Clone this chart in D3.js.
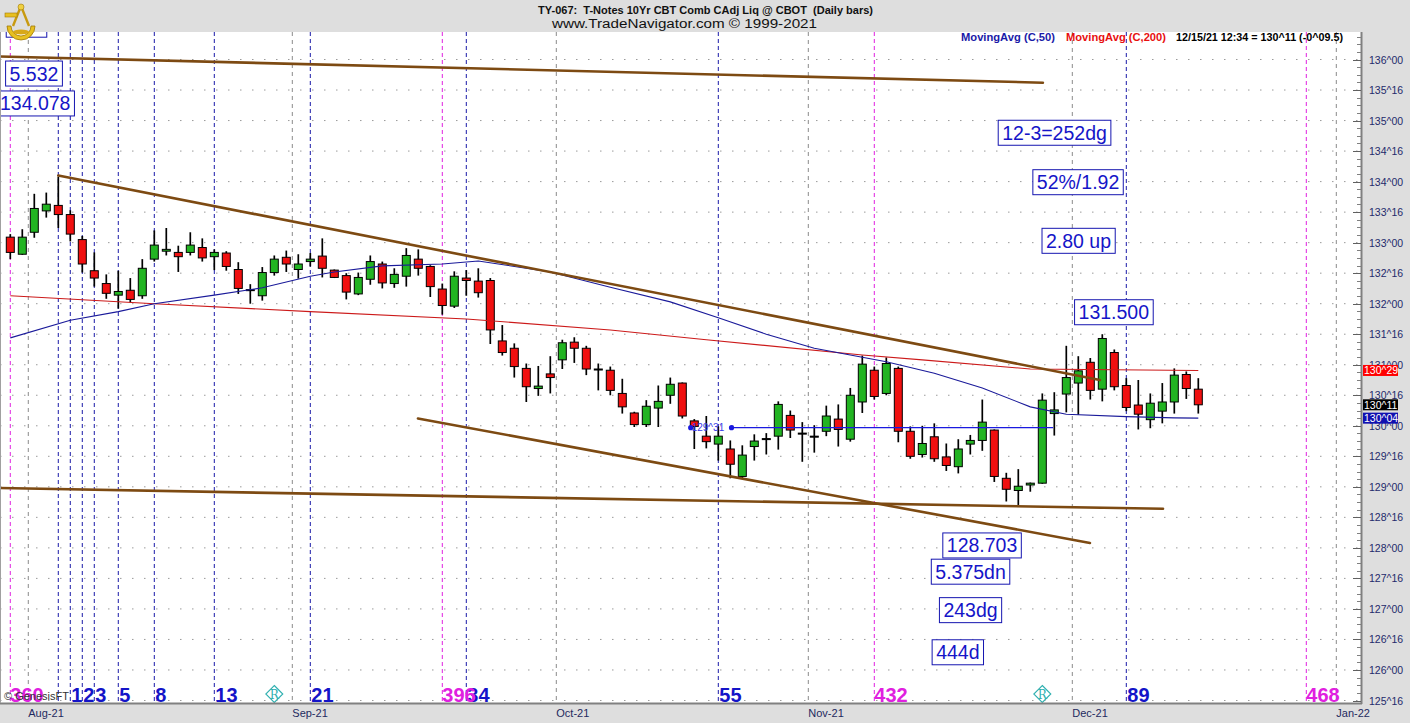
<!DOCTYPE html>
<html><head><meta charset="utf-8">
<script src="https://cdn.jsdelivr.net/npm/d3@7"></script>
<style>
body{margin:0;background:#fff;}
svg{display:block;font-family:"Liberation Sans",Arial,sans-serif;}
</style>
</head><body>
<svg id="c" width="1410" height="723"></svg>
<script>
// ---------------- DATA ----------------
const openP = [133.09,132.81,133.17,133.52,133.61,133.46,133.05,132.54,132.33,132.14,
132.22,132.13,132.73,132.86,132.84,132.84,132.92,132.77,132.83,132.56,
132.23,132.13,132.51,132.76,132.56,132.69,132.78,132.55,132.46,132.16,
132.40,132.65,132.33,132.45,132.73,132.61,132.24,131.96,132.42,132.37,
132.38,131.39,131.27,130.94,130.61,130.85,131.08,131.37,131.27,130.93,
130.91,130.53,130.21,130.02,130.29,130.50,130.70,130.08,129.83,129.70,
129.62,129.17,129.66,129.79,129.83,130.17,129.88,129.83,129.91,130.11,
129.78,130.39,130.91,130.53,130.94,129.91,129.53,129.82,129.49,129.33,
129.70,129.76,129.93,129.14,128.94,129.03,129.06,130.20,130.52,130.70,
131.04,130.60,131.20,130.66,130.34,130.10,130.24,130.39,130.84,130.60];
const highP = [133.14,133.22,133.80,133.82,134.08,133.53,133.11,132.84,132.48,132.54,
132.42,132.73,133.20,133.24,132.95,133.17,133.07,132.89,132.86,132.68,
132.32,132.60,132.79,132.87,132.81,132.83,133.07,132.56,132.50,132.51,
132.79,132.69,132.58,132.91,132.89,132.63,132.33,132.53,132.55,132.58,
132.42,131.65,131.35,131.02,130.98,131.14,131.41,131.45,131.31,131.02,
130.97,130.77,130.23,130.42,130.66,130.79,130.71,130.11,130.16,129.99,
129.76,129.68,129.86,129.88,130.40,130.25,130.06,130.01,130.33,130.35,
130.62,131.15,130.97,131.12,130.97,129.99,130.00,130.04,129.71,129.78,
129.85,130.43,129.94,129.23,129.29,129.07,130.53,130.55,131.31,131.14,
131.11,131.50,131.25,130.78,130.75,130.53,130.70,130.94,130.89,130.78];
const lowP = [132.73,132.80,133.08,133.41,133.24,133.02,132.51,132.28,132.08,131.92,
132.02,132.08,132.69,132.79,132.52,132.79,132.69,132.55,132.54,132.16,
132.00,132.05,132.46,132.52,132.41,132.61,132.43,132.42,132.07,132.14,
132.31,132.25,132.26,132.28,132.46,132.11,131.82,131.93,132.13,132.10,
131.34,131.15,130.79,130.39,130.49,130.53,130.93,131.03,130.83,130.58,
130.50,130.20,129.98,129.98,129.98,130.36,130.12,129.62,129.63,129.43,
129.14,129.14,129.43,129.53,129.61,129.80,129.41,129.56,129.83,129.66,
129.74,130.21,130.43,130.50,129.73,129.46,129.48,129.41,129.26,129.22,
129.53,129.59,129.08,128.76,128.703,128.92,129.05,129.84,130.22,130.18,
130.43,130.40,130.58,130.24,129.94,129.96,130.04,130.20,130.44,130.20];
const closeP = [132.84,133.09,133.56,133.63,133.46,133.14,132.65,132.42,132.17,132.20,
132.07,132.58,132.96,132.89,132.77,132.96,132.75,132.84,132.61,132.25,
132.23,132.51,132.73,132.65,132.65,132.73,132.58,132.43,132.19,132.43,
132.69,132.34,132.48,132.79,132.58,132.28,131.97,132.45,132.38,132.18,
131.57,131.20,130.97,130.64,130.65,130.79,131.36,131.27,130.93,130.93,
130.58,130.31,130.02,130.32,130.40,130.68,130.16,129.99,129.74,129.83,
129.37,129.52,129.75,129.79,130.35,129.93,129.88,129.83,130.16,129.94,
130.50,131.01,130.48,131.02,129.91,129.50,129.71,129.46,129.35,129.62,
129.76,130.06,129.17,128.96,129.01,129.06,130.42,130.26,130.79,130.90,
130.58,131.43,130.64,130.30,130.19,130.37,130.39,130.83,130.61,130.34375];

// moving averages (bar index, value)
const ma50Idx = [0,5,9,12,17,21,25,27,31,36,39,45,50,55,59,63,67,70,73,77,81,85,88,93,97,99];
const ma50Val = [131.44,131.73,131.87,132.00,132.14,132.26,132.45,132.52,132.62,132.65,132.70,132.52,132.27,132.03,131.77,131.50,131.27,131.16,131.05,130.86,130.62,130.31,130.19,130.15,130.13,130.125];
const ma200Idx = [0,12,25,38,50,58,71,76,85,99];
const ma200Val = [132.13,132.00,131.87,131.75,131.57,131.41,131.16,131.08,130.93,130.906];

// brown trendlines: [startIdx, startPrice, endIdx, endPrice]
const trendStartIdx = [-0.86, 4, 33.97, -0.86];
const trendStartVal = [136.05, 134.10, 130.12, 128.98];
const trendEndIdx   = [86.05, 90.8, 89.97, 96.06];
const trendEndVal   = [135.62, 130.75, 128.08, 128.64];

// horizontal level line
const levelVal = 129.96875, levelLabel = "129^31", levelStartIdx = 60.1, levelEndIdx = 86.9, levelDotIdx = 56.7;

// time-cycle lines
const fibLineIdx = [4,5,6,7,9,12,17,25,38,59,93];
const fibLabels  = ["","1","2","3","5","8","13","21","34","55","89"];
const cycleIdx    = [0,36,72,108];
const cycleLabels = ["360","396","432","468"];
const monthIdx    = [1.5,23.5,45.5,66.5,88.5,110.5];
const monthLabels = ["Aug-21","Sep-21","Oct-21","Nov-21","Dec-21","Jan-22"];
const markerIdx = [22, 86];

// annotation boxes (centre at bar index / price)
const annoText  = ["368","5.532","134.078","12-3=252dg","52%/1.92","2.80 up","131.500","128.703","5.375dn","243dg","444d"];
const annoIdx   = [1.35,1.975,2.075,87.02,88.98,89.02,91.96,80.98,80.02,80.02,78.96];
const annoPrice = [136.57,135.77,135.28,134.80,133.99,133.03,131.86,128.04,127.61,126.98,126.29];

// price tags on axis
const tagVals   = [130.90625,130.34375,130.125];
const tagLabels = ["130^29","130^11","130^04"];
const tagColors = ["#ff0000","#000000","#1010b0"];

// ---------------- CHART ----------------
const svg = d3.select("#c");
const plotR = 1361, plotT = 32, plotB = 703;
const x = d3.scaleLinear().domain([-0.858, 112.558]).range([0, 1361]);
const y = d3.scaleLinear().domain([136, 125.5]).range([59.5, 700.5]);
const fmt32 = v => { const n = Math.floor(v + 1e-9); const f = Math.round((v - n) * 32); return n + "^" + String(f).padStart(2, "0"); };

svg.append("rect").attr("width",1410).attr("height",723).attr("fill","#dedede");
svg.append("rect").attr("x",0).attr("y",plotT).attr("width",plotR).attr("height",plotB-plotT).attr("fill","#ffffff");

svg.append("defs").append("clipPath").attr("id","plot").append("rect")
  .attr("x",0).attr("y",plotT).attr("width",plotR).attr("height",plotB-plotT);
const g = svg.append("g").attr("clip-path","url(#plot)");

// horizontal dotted grid
const majors = d3.range(125.5, 136.01, 0.5);
g.selectAll(".hg").data(majors).join("line")
  .attr("x1",0).attr("x2",plotR).attr("y1",d=>y(d)).attr("y2",d=>y(d))
  .attr("stroke","#9a9a9a").attr("stroke-width",1).attr("stroke-dasharray","1.5,10.5");

// month grid
g.selectAll(".mg").data(monthIdx).join("line")
  .attr("x1",d=>x(d)).attr("x2",d=>x(d)).attr("y1",plotT).attr("y2",plotB)
  .attr("stroke","#8a8a8a").attr("stroke-width",1).attr("stroke-dasharray","4,4");

// fib lines
g.selectAll(".fl").data(fibLineIdx).join("line")
  .attr("x1",d=>x(d)).attr("x2",d=>x(d)).attr("y1",plotT).attr("y2",plotB)
  .attr("stroke","#1a1aa8").attr("stroke-width",1).attr("stroke-dasharray","4,3");
g.selectAll(".cl").data(cycleIdx).join("line")
  .attr("x1",d=>x(d)).attr("x2",d=>x(d)).attr("y1",plotT).attr("y2",plotB)
  .attr("stroke","#e020e0").attr("stroke-width",1).attr("stroke-dasharray","4,3");

// candles
const idx = d3.range(openP.length);
g.selectAll(".wick").data(idx).join("line")
  .attr("x1",i=>x(i)).attr("x2",i=>x(i)).attr("y1",i=>y(highP[i])).attr("y2",i=>y(lowP[i]))
  .attr("stroke","#000").attr("stroke-width",1.7);
g.selectAll(".body").data(idx).join("rect")
  .attr("x",i=>x(i)-4).attr("width",8)
  .attr("y",i=>y(Math.max(openP[i],closeP[i])))
  .attr("height",i=>Math.max(1, y(Math.min(openP[i],closeP[i])) - y(Math.max(openP[i],closeP[i]))))
  .attr("fill",i=> closeP[i] > openP[i] ? "#22b422" : (closeP[i] < openP[i] ? "#f01010" : "#000"))
  .attr("stroke","#000").attr("stroke-width",1);

// moving averages
const line = d3.line().x(d=>x(d[0])).y(d=>y(d[1]));
g.append("path").datum(ma200Idx.map((d,i)=>[d,ma200Val[i]])).attr("d",line)
  .attr("fill","none").attr("stroke","#cc1a1a").attr("stroke-width",1.1);
g.append("path").datum(ma50Idx.map((d,i)=>[d,ma50Val[i]])).attr("d",line)
  .attr("fill","none").attr("stroke","#1a1a9a").attr("stroke-width",1.1);

// level line
g.append("line").attr("x1",x(levelStartIdx)).attr("x2",x(levelEndIdx)).attr("y1",y(levelVal)).attr("y2",y(levelVal))
  .attr("stroke","#1a1ae0").attr("stroke-width",1.3);
g.selectAll(".ld").data([levelDotIdx, levelStartIdx]).join("circle")
  .attr("cx",d=>x(d)).attr("cy",y(levelVal)).attr("r",2.6).attr("fill","#1a1ae0");
g.append("text").attr("x",x(levelDotIdx)+1).attr("y",y(levelVal)+3.5).text(levelLabel)
  .attr("font-size",10).attr("fill","#3a3ae8");

// trendlines
g.selectAll(".tl").data(trendStartIdx).join("line")
  .attr("x1",(d)=>x(d)).attr("y1",(d,i)=>y(trendStartVal[i]))
  .attr("x2",(d,i)=>x(trendEndIdx[i])).attr("y2",(d,i)=>y(trendEndVal[i]))
  .attr("stroke","#7d4a12").attr("stroke-width",2.6).attr("stroke-linecap","round");

// annotation boxes
annoText.forEach((t,i)=>{
  const cx = x(annoIdx[i]), cy = y(annoPrice[i]);
  const tx = g.append("text").attr("x",cx).attr("y",cy+7).attr("text-anchor","middle")
    .attr("font-size",19.5).attr("fill","#1515c8").text(t);
  const bb = tx.node().getBBox();
  g.insert("rect", () => tx.node()).attr("x",bb.x-4).attr("y",cy-12.5).attr("width",bb.width+8).attr("height",25)
    .attr("fill","#fff").attr("stroke","#1515b0").attr("stroke-width",1);
});

// legend line
const lg = g.append("g").attr("font-weight","bold").attr("font-size",11);
lg.append("text").attr("x",961).attr("y",40.5).attr("fill","#1a1aa8").attr("textLength",94).attr("lengthAdjust","spacingAndGlyphs").text("MovingAvg (C,50)");
lg.append("text").attr("x",1066).attr("y",40.5).attr("fill","#e81010").attr("textLength",100).attr("lengthAdjust","spacingAndGlyphs").text("MovingAvg (C,200)");
lg.append("text").attr("x",1176).attr("y",40.5).attr("fill","#000").attr("textLength",167).attr("lengthAdjust","spacingAndGlyphs").text("12/15/21 12:34 = 130^11 (-0^09.5)");

// bottom labels
const fibShown = fibLineIdx.map((d,i)=>({d, l:fibLabels[i]})).filter(o=>o.l!=="");
g.selectAll(".fbl").data(fibShown).join("text")
  .attr("x",o=>x(o.d)+1).attr("y",701.5).text(o=>o.l)
  .attr("font-size",20).attr("font-weight","bold").attr("fill","#1414c8");
g.selectAll(".cbl").data(cycleIdx).join("text")
  .attr("x",d=>x(d)).attr("y",701.5).text((d,i)=>cycleLabels[i])
  .attr("font-size",20).attr("font-weight","bold").attr("fill","#e020e0");
g.append("text").attr("x",4).attr("y",700).attr("font-size",11).attr("fill","#333").text("© GenesisFT");

// R markers
markerIdx.forEach(m=>{
  const cx = x(m), cy = 694;
  g.append("path").attr("d",`M${cx},${cy-8.5}L${cx+8.5},${cy}L${cx},${cy+8.5}L${cx-8.5},${cy}Z`)
    .attr("fill","none").attr("stroke","#30b0b0").attr("stroke-width",1.1);
  g.append("text").attr("x",cx).attr("y",cy+4.5).attr("text-anchor","middle").attr("font-size",12)
    .attr("font-family","DejaVu Serif, serif").attr("fill","#30b0b0").text("R");
});

// axes frame
svg.append("line").attr("x1",plotR+0.5).attr("x2",plotR+0.5).attr("y1",plotT).attr("y2",plotB+1).attr("stroke","#808080").attr("stroke-width",2);
svg.append("line").attr("x1",0).attr("x2",plotR+1).attr("y1",plotB+0.5).attr("y2",plotB+0.5).attr("stroke","#808080").attr("stroke-width",2);
svg.append("line").attr("x1",0.5).attr("x2",0.5).attr("y1",plotT).attr("y2",plotB).attr("stroke","#a0a0a0").attr("stroke-width",1);

// right axis ticks
const minors = d3.range(125.5, 136.45, 0.125);
svg.selectAll(".mt").data(minors).join("line")
  .attr("x1",plotR-4).attr("x2",plotR).attr("y1",d=>Math.round(y(d))+0.5).attr("y2",d=>Math.round(y(d))+0.5)
  .attr("stroke","#808080").attr("stroke-width",1);
svg.selectAll(".Mt").data(majors).join("line")
  .attr("x1",plotR-8).attr("x2",plotR).attr("y1",d=>Math.round(y(d))+0.5).attr("y2",d=>Math.round(y(d))+0.5)
  .attr("stroke","#606060").attr("stroke-width",1);
svg.selectAll(".yl").data(majors).join("text")
  .attr("x",1369).attr("y",d=>y(d)+4).text(d=>fmt32(d))
  .attr("font-size",10.5).attr("fill","#232a6b");

// price tags
tagVals.forEach((v,i)=>{
  const cy = y(v);
  svg.append("rect").attr("x",1363).attr("y",cy-5.5).attr("width",35).attr("height",11).attr("fill",tagColors[i]);
  svg.append("text").attr("x",1364).attr("y",cy+4).attr("font-size",10.5).attr("fill","#fff").text(tagLabels[i]);
});

// month labels
svg.selectAll(".ml").data(monthIdx).join("text")
  .attr("x",d=>x(d)).attr("y",717).text((d,i)=>monthLabels[i])
  .attr("font-size",11).attr("fill","#1e2a5e");

// header
svg.append("text").attr("x",538).attr("y",13.5).attr("font-size",11.5).attr("font-weight","bold").attr("fill","#111")
  .attr("textLength",335).attr("lengthAdjust","spacingAndGlyphs").attr("xml:space","preserve").text("TY-067:  T-Notes 10Yr CBT Comb CAdj Liq @ CBOT  (Daily bars)");
svg.append("text").attr("x",552).attr("y",28).attr("font-size",12.5).attr("fill","#111")
  .attr("textLength",265).attr("lengthAdjust","spacingAndGlyphs").text("www.TradeNavigator.com © 1999-2021");

// logo (sextant)
const lgo = svg.append("g").attr("transform","translate(3,2)");
lgo.append("path").attr("d","M4,24 A14,14 0 0 0 32,24 L28,24 A10,10 0 0 1 8,24 Z").attr("fill","#e8c020").attr("stroke","#a07808").attr("stroke-width",0.8);
lgo.append("path").attr("d","M18,4 L10,24 M18,4 L26,24").attr("stroke","#c89a10").attr("stroke-width",2.4);
lgo.append("rect").attr("x",2).attr("y",11).attr("width",12).attr("height",4).attr("fill","#e8c020").attr("stroke","#a07808").attr("stroke-width",0.6);
lgo.append("circle").attr("cx",18).attr("cy",5).attr("r",3).attr("fill","#f0d040").attr("stroke","#a07808").attr("stroke-width",0.6);
lgo.append("ellipse").attr("cx",18).attr("cy",30).attr("rx",8).attr("ry",2.5).attr("fill","#d8a818");
</script>
</body></html>
